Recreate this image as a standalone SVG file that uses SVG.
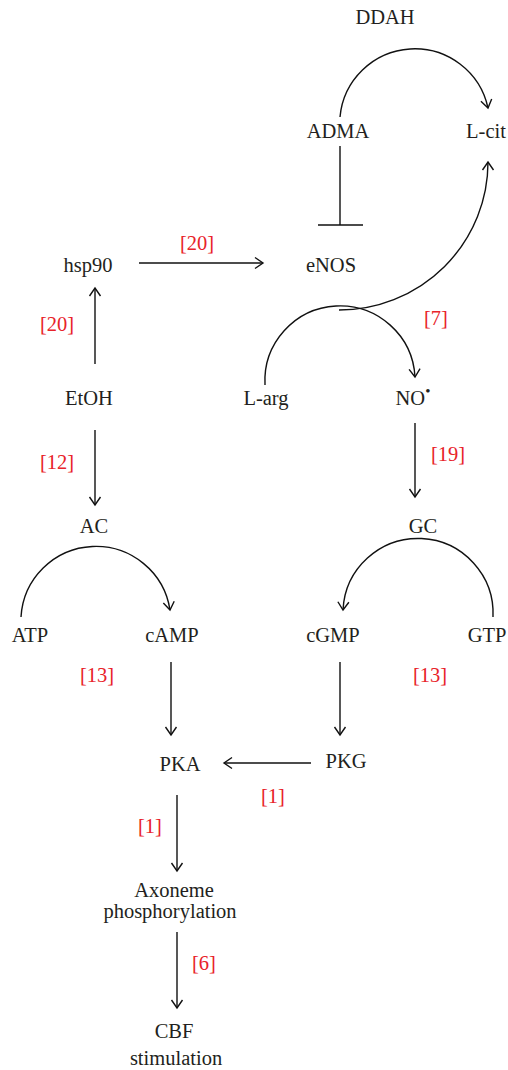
<svg xmlns="http://www.w3.org/2000/svg" width="508" height="1070" viewBox="0 0 508 1070">
<style>
text{font-family:"Liberation Serif","Times New Roman",serif;font-size:20.5px;fill:#231f20;text-anchor:middle}
text.ref{fill:#e8232a}
.c path{fill:none;stroke:#111;stroke-width:1.4}
</style>
<defs>
<marker id="ah" viewBox="-10 -7 12 14" markerWidth="12" markerHeight="14" refX="0" refY="0" orient="auto" markerUnits="userSpaceOnUse">
<path d="M-8,-5.5 L0,0 L-8,5.5" fill="none" stroke="#111" stroke-width="1.4"/>
</marker>
</defs>
<g class="c" id="connectors">
<path d="M340,117 A75,75 0 0 1 488,108" marker-end="url(#ah)"/>
<path d="M340,146 V225 M318,225 H363"/>
<path d="M139,263 H263" marker-end="url(#ah)"/>
<path d="M95,364 V288" marker-end="url(#ah)"/>
<path d="M95,430 V505" marker-end="url(#ah)"/>
<path d="M265,385 A75,75 0 0 1 415,377" marker-end="url(#ah)"/>
<path d="M339,310 A149,148 0 0 0 488,162" marker-end="url(#ah)"/>
<path d="M415,423 V497" marker-end="url(#ah)"/>
<path d="M21,617 A75,75 0 0 1 170,610" marker-end="url(#ah)"/>
<path d="M493,617 A75,75 0 0 0 343,610" marker-end="url(#ah)"/>
<path d="M171,662 V735" marker-end="url(#ah)"/>
<path d="M340,662 V735" marker-end="url(#ah)"/>
<path d="M311,763 H224" marker-end="url(#ah)"/>
<path d="M177,795 V871" marker-end="url(#ah)"/>
<path d="M177,932 V1008" marker-end="url(#ah)"/>
</g>
<g id="labels">
<text class="ref" x="197" y="250">[20]</text>
<text class="ref" x="57" y="331">[20]</text>
<text class="ref" x="57" y="469">[12]</text>
<text class="ref" x="436" y="325">[7]</text>
<text class="ref" x="448" y="461">[19]</text>
<text class="ref" x="97" y="682">[13]</text>
<text class="ref" x="430" y="682">[13]</text>
<text class="ref" x="273" y="803">[1]</text>
<text class="ref" x="150" y="833">[1]</text>
<text class="ref" x="204" y="970">[6]</text>
</g>
<g id="DDAH"><text x="385" y="24">DDAH</text></g>
<g id="ADMA"><text x="338" y="138">ADMA</text></g>
<g id="Lcit"><text x="486" y="138">L-cit</text></g>
<g id="hsp90"><text x="88" y="272">hsp90</text></g>
<g id="eNOS"><text x="331" y="272">eNOS</text></g>
<g id="EtOH"><text x="89" y="405">EtOH</text></g>
<g id="Larg"><text x="266" y="405">L-arg</text></g>
<g id="NO"><text x="413" y="405">NO<tspan font-size="15" dy="-9">•</tspan></text></g>
<g id="AC"><text x="94" y="533">AC</text></g>
<g id="GC"><text x="423" y="533">GC</text></g>
<g id="ATP"><text x="30" y="642">ATP</text></g>
<g id="cAMP"><text x="172" y="642">cAMP</text></g>
<g id="cGMP"><text x="333" y="642">cGMP</text></g>
<g id="GTP"><text x="487" y="642">GTP</text></g>
<g id="PKA"><text x="180" y="771">PKA</text></g>
<g id="PKG"><text x="346" y="768">PKG</text></g>
<g id="Axoneme"><text x="174" y="897">Axoneme</text><text x="170" y="918">phosphorylation</text></g>
<g id="CBF"><text x="174" y="1038">CBF</text><text x="176" y="1065">stimulation</text></g>
</svg>
